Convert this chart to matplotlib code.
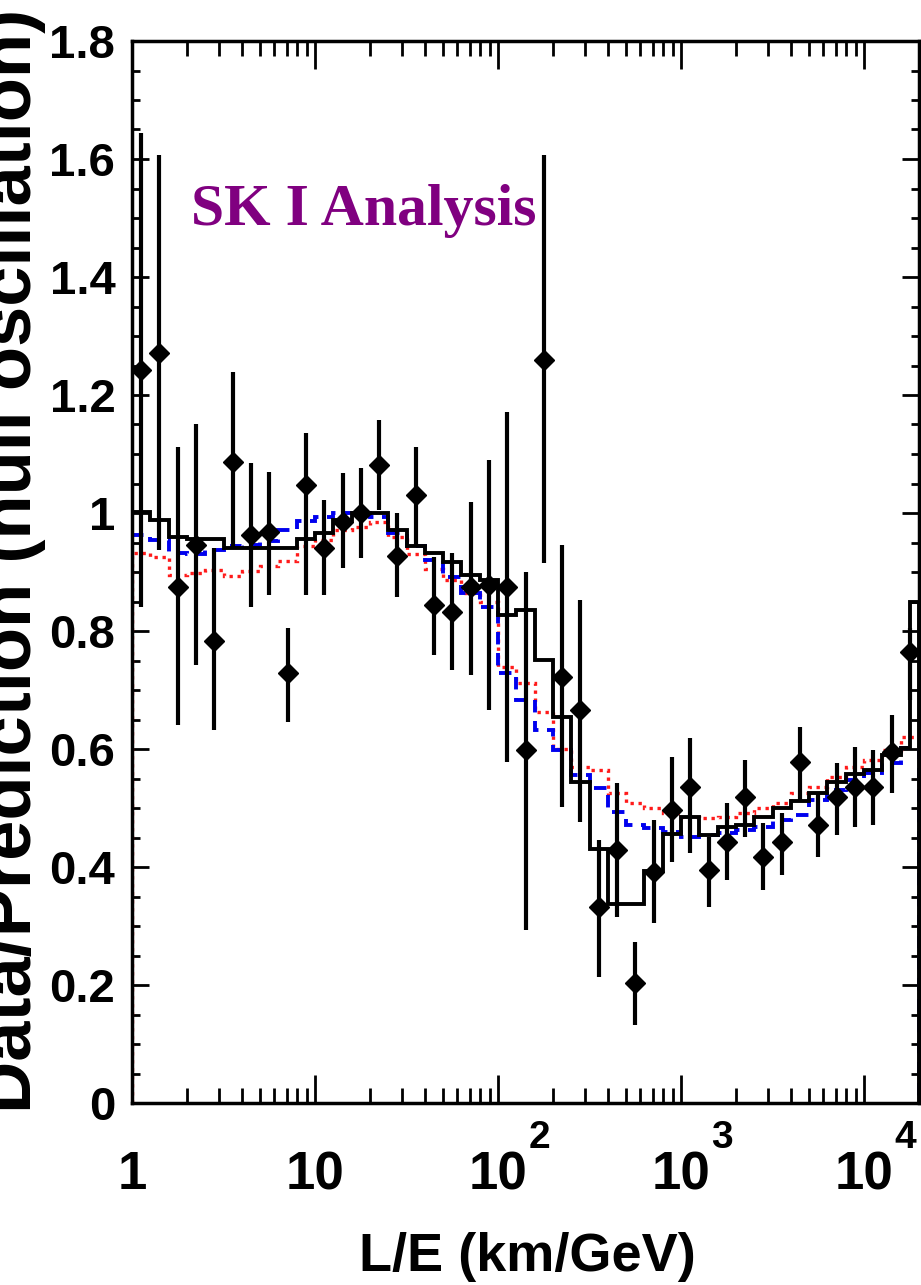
import numpy as np
import matplotlib.pyplot as plt
from matplotlib import font_manager
from matplotlib.ticker import MultipleLocator, NullFormatter


def first_font(names):
    # pick the first installed family (narrow sans if we have it)
    for name in names:
        try:
            font_manager.findfont(font_manager.FontProperties(family=[name]),
                                  fallback_to_default=False)
            return name
        except ValueError:
            continue
    return 'DejaVu Sans'


narrow = first_font(['Liberation Sans Narrow', 'DejaVu Sans Condensed', 'Liberation Sans'])
sans = first_font(['Liberation Sans', 'DejaVu Sans'])
serif = first_font(['Liberation Serif', 'DejaVu Serif'])
is_narrow = narrow != sans

# L/E bins (km/GeV), 0.1 wide in log10
bin_edges = [1.0, 1.259, 1.585, 1.995, 2.512, 3.162, 3.981, 5.012, 6.310, 7.943,
             10.0, 12.59, 15.85, 19.95, 25.12, 31.62, 39.81, 50.12, 63.10, 79.43,
             100.0, 125.9, 158.5, 199.5, 251.2, 316.2, 398.1, 501.2, 631.0, 794.3,
             1000, 1259, 1585, 1995, 2512, 3162, 3981, 5012, 6310, 7943,
             10000, 12589, 15849, 19953]
bin_centers = [1.122, 1.413, 1.778, 2.239, 2.818, 3.548, 4.467, 5.623, 7.079, 8.913,
               11.22, 14.13, 17.78, 22.39, 28.18, 35.48, 44.67, 56.23, 70.79, 89.13,
               112.2, 141.3, 177.8, 223.9, 281.8, 354.8, 446.7, 562.3, 707.9, 891.3,
               1122, 1413, 1778, 2239, 2818, 3548, 4467, 5623, 7079, 8913,
               11220, 14125, 17783]

# data / null-oscillation prediction and the ends of the error bars
ratio = [1.242, 1.271, 0.875, 0.946, 0.783, 1.086, 0.963, 0.968, 0.729, 1.047,
         0.941, 0.985, 1.000, 1.081, 0.927, 1.031, 0.844, 0.832, 0.875, 0.878,
         0.875, 0.598, 1.259, 0.722, 0.666, 0.332, 0.429, 0.203, 0.392, 0.497,
         0.536, 0.395, 0.442, 0.519, 0.417, 0.442, 0.578, 0.471, 0.519, 0.536,
         0.536, 0.595, 0.764]
bar_low = [0.840, 0.937, 0.641, 0.742, 0.632, 0.942, 0.841, 0.861, 0.646, 0.861,
           0.861, 0.907, 0.924, 1.005, 0.858, 0.946, 0.759, 0.734, 0.725, 0.666,
           0.578, 0.293, 0.915, 0.502, 0.476, 0.214, 0.315, 0.132, 0.305, 0.408,
           0.424, 0.332, 0.378, 0.451, 0.361, 0.386, 0.514, 0.417, 0.454, 0.468,
           0.471, 0.525, 0.683]
bar_high = [1.644, 1.607, 1.112, 1.151, 0.941, 1.239, 1.085, 1.069, 0.805, 1.136,
            1.022, 1.068, 1.076, 1.158, 1.000, 1.112, 0.925, 0.932, 1.019, 1.090,
            1.171, 0.900, 1.607, 0.946, 0.853, 0.446, 0.542, 0.273, 0.480, 0.586,
            0.619, 0.451, 0.508, 0.581, 0.475, 0.492, 0.637, 0.525, 0.576, 0.603,
            0.598, 0.658, 0.805]

# best fit (solid) - last bin is split in two
fit_edges = bin_edges[:-1] + [17783, 19953]
fit_black = [1.002, 0.988, 0.959, 0.956, 0.956, 0.941, 0.941, 0.941, 0.941, 0.956,
             0.966, 0.988, 1.000, 1.000, 0.971, 0.944, 0.932, 0.917, 0.895, 0.886,
             0.827, 0.836, 0.751, 0.654, 0.544, 0.430, 0.337, 0.337, 0.393, 0.456,
             0.484, 0.454, 0.468, 0.471, 0.485, 0.500, 0.512, 0.525, 0.544, 0.558,
             0.564, 0.590, 0.601, 0.849]
# dashed blue and dotted red expectations
fit_blue = [0.963, 0.955, 0.932, 0.931, 0.938, 0.944, 0.946, 0.952, 0.971, 0.986,
            0.994, 1.000, 1.000, 0.994, 0.966, 0.944, 0.920, 0.892, 0.864, 0.841,
            0.729, 0.683, 0.632, 0.598, 0.556, 0.534, 0.493, 0.471, 0.466, 0.459,
            0.451, 0.454, 0.457, 0.463, 0.468, 0.480, 0.488, 0.514, 0.530, 0.547,
            0.559, 0.576, 0.602]
fit_red = [0.932, 0.926, 0.895, 0.898, 0.904, 0.893, 0.901, 0.910, 0.918, 0.944,
           0.955, 0.971, 0.977, 0.985, 0.960, 0.930, 0.905, 0.886, 0.864, 0.849,
           0.739, 0.712, 0.662, 0.600, 0.570, 0.565, 0.525, 0.508, 0.500, 0.492,
           0.485, 0.483, 0.485, 0.491, 0.500, 0.508, 0.525, 0.536, 0.553, 0.569,
           0.581, 0.598, 0.620]

yticks = [0, 0.2, 0.4, 0.6, 0.8, 1.0, 1.2, 1.4, 1.6, 1.8]
ytick_labels = ['0', '0.2', '0.4', '0.6', '0.8', '1', '1.2', '1.4', '1.6', '1.8']
xticks = [1, 10, 100, 1000, 10000]
xtick_labels = ['1', '10', '10', '10', '10']
exponents = ['', '', '2', '3', '4']

# font sizes: the original glyphs are tall and narrow, so a normal-width
# face has to be a bit smaller to fit the same room
ysize = 42 if is_narrow else 34
xsize = 42 if is_narrow else 38
xlab_size = 48 if is_narrow else 39

fig = plt.figure(figsize=(9.21, 12.85), dpi=100)
ax = fig.add_axes([132 / 921, 1 - 1103 / 1285, (919 - 132) / 921, (1103 - 41) / 1285])

ax.stairs(fit_red, bin_edges, baseline=0, color='#ff1a1a', lw=2.4,
          linestyle=(0, (1, 1.4)), zorder=2)
ax.stairs(fit_blue, bin_edges, baseline=0, color='#0000ee', lw=2.8,
          linestyle=(0, (3.2, 2.2)), zorder=3)
ax.stairs(fit_black, fit_edges, baseline=0, color='black', lw=2.8, zorder=4)

r = np.array(ratio)
yerr = [r - np.array(bar_low), np.array(bar_high) - r]
ax.errorbar(bin_centers, ratio, yerr=yerr, fmt='D', color='black', ms=10,
            elinewidth=3, capsize=0, zorder=6)

ax.set_xscale('log')
ax.set_xlim(1, 19953)
ax.set_ylim(0, 1.8)

ax.set_yticks(yticks, labels=ytick_labels)
ax.yaxis.set_minor_locator(MultipleLocator(0.05))
ax.set_xticks(xticks, labels=xtick_labels)
ax.xaxis.set_minor_formatter(NullFormatter())

for lab in ax.get_yticklabels():
    lab.set_fontfamily(narrow)
    lab.set_fontweight('bold')
    lab.set_fontsize(ysize)
for lab in ax.get_xticklabels():
    lab.set_fontfamily(narrow)
    lab.set_fontweight('bold')
    lab.set_fontsize(xsize)

ax.tick_params(axis='x', which='major', direction='in', length=20, width=2,
               top=True, bottom=True, pad=34)
ax.tick_params(axis='x', which='minor', direction='in', length=10.5, width=2,
               top=True, bottom=True)
ax.tick_params(axis='y', which='major', direction='in', length=12, width=2,
               left=True, right=True, pad=12)
ax.tick_params(axis='y', which='minor', direction='in', length=6, width=2,
               left=True, right=True)
for sp in ax.spines.values():
    sp.set_linewidth(2.5)
    sp.set_zorder(10)

# exponents of the decade labels sit up and to the right of the "10"
for tick, e in zip(xticks, exponents):
    if e:
        ax.annotate(e, xy=(tick, 0), xycoords=('data', 'axes fraction'),
                    xytext=(29.5, -12), textcoords='offset points',
                    ha='center', va='top', fontsize=28, fontweight='bold',
                    family=narrow, annotation_clip=False)

ax.text(0.075, 0.827, 'SK I Analysis', transform=ax.transAxes, color='#800080',
        fontsize=43, fontweight='bold', family=serif, ha='left', va='baseline')

fig.text(46 / 921, 1 - 561 / 1285, 'Data/Prediction (null oscillation)', rotation=90,
         ha='right', va='center', fontsize=52, fontweight='bold', family=sans)
fig.text(527 / 921, 1 - 1271 / 1285, 'L/E (km/GeV)', ha='center', va='baseline',
         fontsize=xlab_size, fontweight='bold', family=narrow)

fig.savefig('out.png', dpi=100)
